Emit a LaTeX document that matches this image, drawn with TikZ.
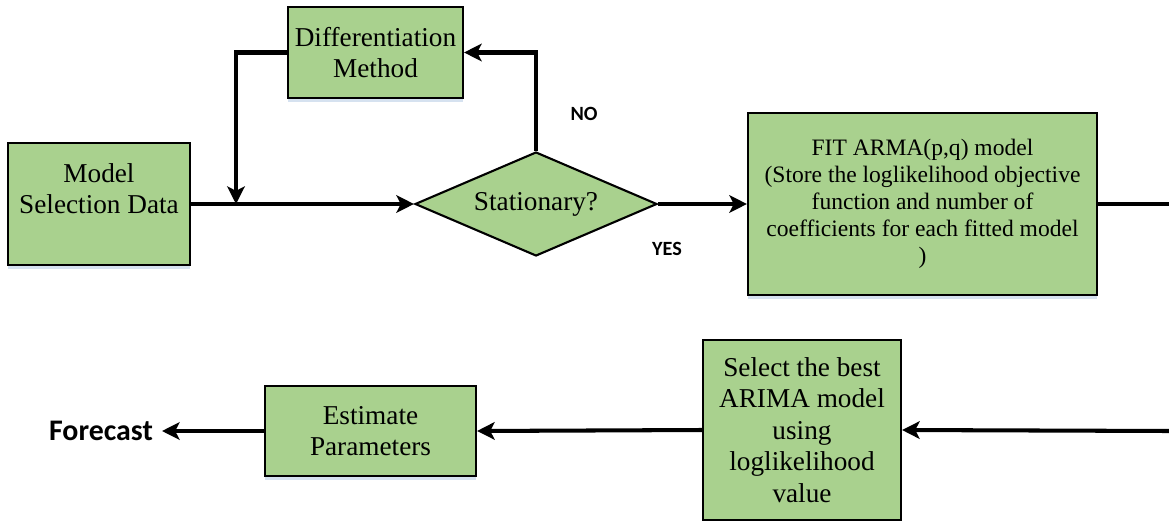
\documentclass[tikz,border=0pt]{standalone}
\usepackage{fontspec}
\setmainfont{Liberation Serif}
\newfontfamily\labelfont{Carlito}
\usetikzlibrary{arrows.meta,shapes.geometric,shadows}
\definecolor{StepGreen}{HTML}{A9D18E}
\definecolor{StepShadow}{HTML}{D6E2F0}
\definecolor{Ink}{HTML}{000000}

\begin{document}
\begin{tikzpicture}[
  box/.style={draw=Ink,line width=1.2pt,fill=StepGreen,align=center,inner sep=2pt,font=\fontsize{15.5}{18}\selectfont,
    drop shadow={fill=StepShadow,opacity=1,shadow xshift=0pt,shadow yshift=-2.5pt}},
  decision/.style={diamond,aspect=2.33,draw=Ink,line width=1.2pt,fill=StepGreen,inner sep=0pt,font=\fontsize{15.5}{18}\selectfont},
  flow/.style={line width=2.3pt,draw=Ink},
  arr/.style={flow,-{Stealth[length=10pt,width=10pt,inset=2.5pt]}},
  tag/.style={font=\labelfont\bfseries\fontsize{11.5}{13}\selectfont,text=Ink}
]
\useasboundingbox (0,0) rectangle (23.38,-10.42);

\node[box,minimum width=3.64cm,minimum height=2.44cm] (msd) at (1.98,-4.08) {Model\\Selection Data\\[-5.7pt]\strut};
\node[box,minimum width=3.5cm,minimum height=1.82cm] (diff) at (7.51,-1.05) {Differentiation\\Method};
\node[decision,minimum width=4.84cm,minimum height=2.08cm] (stat) at (10.72,-4.08) {Stationary?};
\node[box,minimum width=6.98cm,minimum height=3.64cm,font=\fontsize{13.4}{15.3}\selectfont] (fit) at (18.45,-4.08) {FIT ARMA(p,q) model\\(Store the loglikelihood objective\\function and number of\\coefficients for each fitted model\\)};
\node[box,minimum width=3.96cm,minimum height=3.6cm] (best) at (16.04,-8.6) {Select the best\\ARIMA model\\using\\loglikelihood\\value};
\node[box,minimum width=4.22cm,minimum height=1.8cm] (est) at (7.41,-8.62) {Estimate\\Parameters};
\node[font=\labelfont\bfseries\fontsize{17}{20}\selectfont,anchor=east,inner xsep=5pt,inner ysep=1pt] (fc) at (3.24,-8.62) {Forecast};

\node[tag] (no) at (11.68,-2.28) {NO};
\node[tag] (yes) at (13.34,-4.98) {YES};

\coordinate (join) at (4.72,-4.08);
\coordinate (edgeA) at (23.38,-4.08);
\coordinate (edgeB) at (23.38,-8.62);

\draw[arr] (msd.east) -- (stat.west);
\draw[arr] (stat.north) |- (diff.east);
\draw[arr] (diff.west) -| (join);
\draw[arr] (stat.east) -- (fit.west);
\draw[flow] (fit.east) -- (edgeA);
\draw[arr] (edgeB) -- (best.east);
\draw[arr] (best.west) -- (est.east);
\draw[arr] (est.west) -- (fc.east);
\end{tikzpicture}
\end{document}
